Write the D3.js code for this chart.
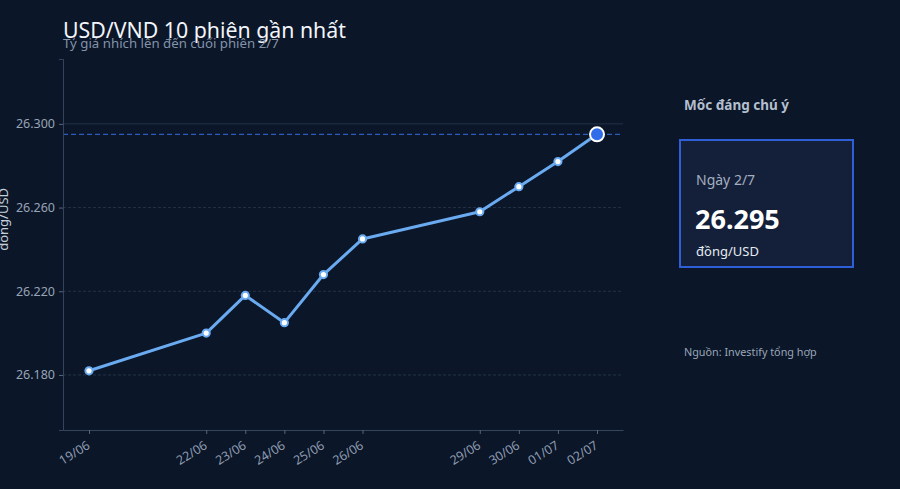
<!DOCTYPE html>
<html>
<head>
<meta charset="utf-8">
<script src="https://cdn.jsdelivr.net/npm/d3@7"></script>
<style>
  html, body { margin: 0; padding: 0; background: #0b1628; }
  svg { display: block; font-family: "Noto Sans", sans-serif; }
</style>
</head>
<body>
<svg id="chart" width="900" height="489"></svg>
<script>
const dates = ["2025-06-19","2025-06-22","2025-06-23","2025-06-24","2025-06-25","2025-06-26","2025-06-29","2025-06-30","2025-07-01","2025-07-02"];
const tickLabels = ["19/06","22/06","23/06","24/06","25/06","26/06","29/06","30/06","01/07","02/07"];
const rates = [26182, 26200, 26218, 26205, 26228, 26245, 26258, 26270, 26282, 26295];
const yTicks = [26180, 26220, 26260, 26300];
const highlightValue = 26295;

const W = 900, H = 489;
const margin = {left: 63, right: 277, top: 59, bottom: 59};
const svg = d3.select("#chart");
svg.append("rect").attr("width", W).attr("height", H).attr("fill", "#0b1628");

const parse = d3.utcParse("%Y-%m-%d");
const data = dates.map((d, i) => ({date: parse(d), value: rates[i], label: tickLabels[i]}));

const DAY = 864e5;
const x = d3.scaleUtc()
  .domain([new Date(+data[0].date - 0.665 * DAY), new Date(+data[data.length-1].date + 0.665 * DAY)])
  .range([margin.left, W - margin.right]);
const y = d3.scaleLinear()
  .domain([26153.7, 26331])
  .range([H - margin.bottom, margin.top]);

const loc = d3.formatLocale({decimal: ",", thousands: ".", grouping: [3], currency: ["", ""]});
const fmt = loc.format(",d");

// gridlines
svg.append("g").selectAll("line").data(yTicks).join("line")
  .attr("x1", margin.left).attr("x2", W - margin.right)
  .attr("y1", d => y(d)).attr("y2", d => y(d))
  .attr("stroke", "#2a3950").attr("stroke-width", 1)
  .attr("stroke-dasharray", d => d === 26300 ? null : "3,2")
  .attr("opacity", 0.8);

// highlight dashed line
svg.append("line")
  .attr("x1", margin.left).attr("x2", W - margin.right)
  .attr("y1", y(highlightValue)).attr("y2", y(highlightValue))
  .attr("stroke", "#2d5bb8").attr("stroke-width", 1.2)
  .attr("stroke-dasharray", "5,3");

// axes
const yAxis = d3.axisLeft(y).tickValues(yTicks).tickFormat(fmt).tickSize(4).tickPadding(4);
const gy = svg.append("g").attr("transform", `translate(${margin.left},0)`).call(yAxis);
gy.select(".domain").attr("stroke", "#35445a");
gy.selectAll(".tick line").attr("stroke", "#56657a");
gy.selectAll(".tick text").attr("fill", "#97a4b6").attr("font-size", 12.5).attr("font-family", "Noto Sans");

const xAxis = d3.axisBottom(x).tickValues(data.map(d => d.date))
  .tickFormat((d, i) => tickLabels[i]).tickSize(4).tickSizeOuter(0);
const gx = svg.append("g").attr("transform", `translate(0,${H - margin.bottom})`).call(xAxis);
gx.select(".domain").attr("stroke", "#35445a");
gx.selectAll(".tick line").attr("stroke", "#56657a");
gx.selectAll(".tick text").attr("fill", "#8e9bb0").attr("font-size", 12.5).attr("font-family", "Noto Sans")
  .attr("text-anchor", "end").attr("x", -4).attr("y", 0).attr("dy", "0.71em")
  .attr("transform", "translate(0,8) rotate(-32)");

// y label
svg.append("text")
  .attr("transform", `translate(3,${(y(26300) + y(26180)) / 2 - 30}) rotate(-90)`)
  .attr("text-anchor", "middle").attr("dy", "0.35em")
  .attr("fill", "#c5cfdc").attr("font-size", 13).text("đồng/USD");

// line
const line = d3.line().x(d => x(d.date)).y(d => y(d.value));
svg.append("path").datum(data).attr("d", line)
  .attr("fill", "none").attr("stroke", "#6aaaf0").attr("stroke-width", 3)
  .attr("stroke-linejoin", "round");

svg.append("g").selectAll("circle").data(data.slice(0, -1)).join("circle")
  .attr("cx", d => x(d.date)).attr("cy", d => y(d.value)).attr("r", 3.6)
  .attr("fill", "#ffffff").attr("stroke", "#6aaaf0").attr("stroke-width", 2);

const last = data[data.length - 1];
svg.append("circle").attr("cx", x(last.date)).attr("cy", y(last.value)).attr("r", 7)
  .attr("fill", "#2f6ee8").attr("stroke", "#ffffff").attr("stroke-width", 2);

// title
svg.append("text").attr("x", 63).attr("y", 38).attr("fill", "#f2f5fa")
  .attr("font-size", 21.3).text("USD/VND 10 phiên gần nhất");
svg.append("text").attr("x", 63).attr("y", 48).attr("fill", "#8393a8")
  .attr("font-size", 13.25).text("Tỷ giá nhích lên đến cuối phiên 2/7");

// side panel
svg.append("text").attr("x", 684).attr("y", 110).attr("fill", "#b4bfce")
  .attr("font-size", 13.5).attr("font-weight", "bold").text("Mốc đáng chú ý");
svg.append("rect").attr("x", 680).attr("y", 140).attr("width", 173).attr("height", 127)
  .attr("fill", "#142039").attr("stroke", "#2f5fd6").attr("stroke-width", 2);
svg.append("text").attr("x", 696).attr("y", 185).attr("fill", "#a3afc0")
  .attr("font-size", 14).text("Ngày 2/7");
svg.append("text").attr("x", 695).attr("y", 229).attr("fill", "#ffffff")
  .attr("font-size", 27).attr("font-weight", "bold").text(fmt(highlightValue));
svg.append("text").attr("x", 696).attr("y", 256).attr("fill", "#e6ebf2")
  .attr("font-size", 13).text("đồng/USD");
svg.append("text").attr("x", 684).attr("y", 356).attr("fill", "#9aa6b8")
  .attr("font-size", 10.8).text("Nguồn: Investify tổng hợp");
</script>
</body>
</html>
